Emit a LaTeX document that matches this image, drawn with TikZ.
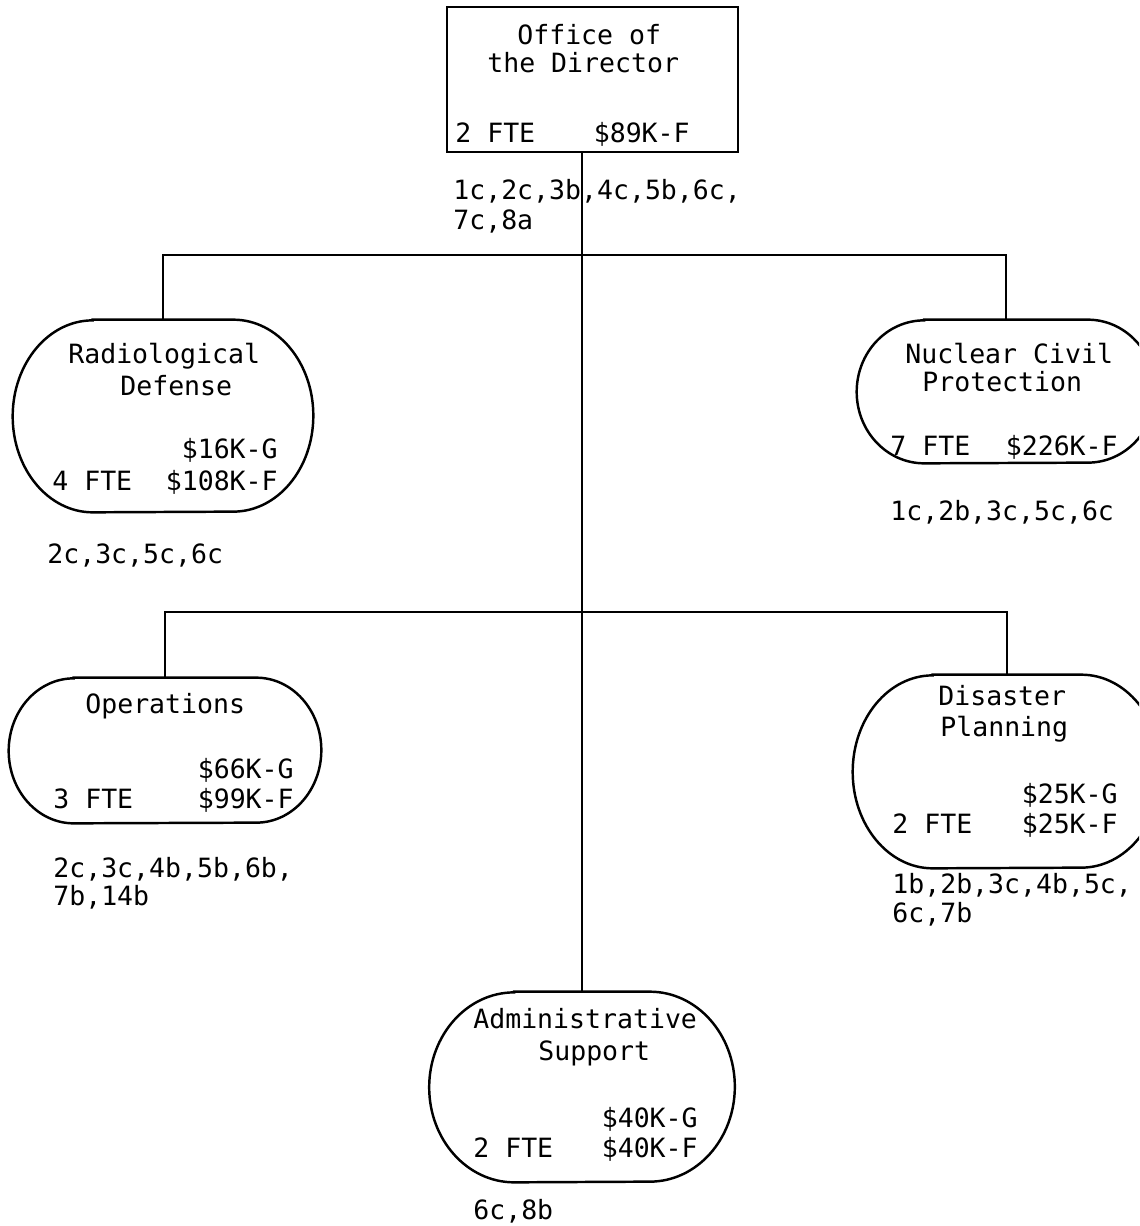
\documentclass[tikz,border=0pt]{standalone}
\usepackage{fontspec}
\setmonofont{DejaVu Sans Mono}
\tikzset{
  unit/.style={inner sep=0pt},
  border/.style={line width=1.4pt},
  txt/.style={font=\ttfamily\fontsize{15.1}{18}\selectfont, inner sep=0pt, anchor=base west},
  amt/.style={txt, anchor=base east},
  link/.style={line width=1.1pt}
}
% oval outline round a node: name, x radius, y radius
\newcommand{\ovalline}[3]{%
  \draw[border] ([xshift=#2]#1.north west) -- ([xshift=-#2]#1.north east)
    arc[start angle=90, end angle=-90, x radius=#2, y radius=#3]
    -- ([xshift=#2]#1.south west)
    arc[start angle=270, end angle=90, x radius=#2, y radius=#3] -- cycle;}
\begin{document}
\begin{tikzpicture}[x=0.02cm, y=-0.02cm]
  \useasboundingbox (0,0) rectangle (1139,1226);
  \clip (0,0) rectangle (1139,1226);

  % Office of the Director
  \node[unit, draw, border, minimum width=5.82cm, minimum height=2.9cm] (dir) at (592.5,79.5) {};
  \node[txt] (dirname1) at (517,45) {Office of};
  \node[txt] (dirname2) at (487,73) {the Director};
  \node[txt] (dirfte) at (455,143) {2 FTE};
  \node[amt] (dirf) at (690,143) {\$89K-F};
  \node[txt] (dircode1) at (453,200) {1c,2c,3b,4c,5b,6c,};
  \node[txt] (dircode2) at (453,230) {7c,8a};

  % Radiological Defense
  \node[unit, minimum width=6cm, minimum height=3.84cm] (rad) at (163,416) {};
  \ovalline{rad}{1.6cm}{1.92cm}
  \node[txt] (radname1) at (68,363) {Radiological};
  \node[txt] (radname2) at (120,395) {Defense};
  \node[amt] (radg) at (278,458) {\$16K-G};
  \node[txt] (radfte) at (52,490) {4 FTE};
  \node[amt] (radf) at (278,490) {\$108K-F};
  \node[txt] (radcode) at (47,563) {2c,3c,5c,6c};

  % Nuclear Civil Protection
  \node[unit, minimum width=5.96cm, minimum height=2.86cm] (ncp) at (1006,391.5) {};
  \ovalline{ncp}{1.35cm}{1.43cm}
  \node[txt] (ncpname1) at (905,363) {Nuclear Civil};
  \node[txt] (ncpname2) at (922,391) {Protection};
  \node[txt] (ncpfte) at (890,455) {7 FTE};
  \node[amt] (ncpf) at (1118,455) {\$226K-F};
  \node[txt] (ncpcode) at (890,520) {1c,2b,3c,5c,6c};

  % Operations
  \node[unit, minimum width=6.24cm, minimum height=2.9cm] (ops) at (165,750.5) {};
  \ovalline{ops}{1.3cm}{1.45cm}
  \node[txt] (opsname) at (85,713) {Operations};
  \node[amt] (opsg) at (294,778) {\$66K-G};
  \node[txt] (opsfte) at (53,808) {3 FTE};
  \node[amt] (opsf) at (294,808) {\$99K-F};
  \node[txt] (opscode1) at (53,877) {2c,3c,4b,5b,6b,};
  \node[txt] (opscode2) at (53,905) {7b,14b};

  % Disaster Planning
  \node[unit, minimum width=6.16cm, minimum height=3.86cm] (dis) at (1007,771.5) {};
  \ovalline{dis}{1.6cm}{1.93cm}
  \node[txt] (disname1) at (938,705) {Disaster};
  \node[txt] (disname2) at (940,736) {Planning};
  \node[amt] (disg) at (1118,803) {\$25K-G};
  \node[txt] (disfte) at (892,833) {2 FTE};
  \node[amt] (disf) at (1118,833) {\$25K-F};
  \node[txt] (discode1) at (892,893) {1b,2b,3c,4b,5c,};
  \node[txt] (discode2) at (892,922) {6c,7b};

  % Administrative Support
  \node[unit, minimum width=6.1cm, minimum height=3.8cm] (adm) at (582,1087) {};
  \ovalline{adm}{1.7cm}{1.9cm}
  \node[txt] (admname1) at (473,1028) {Administrative};
  \node[txt] (admname2) at (538,1060) {Support};
  \node[amt] (admg) at (698,1127) {\$40K-G};
  \node[txt] (admfte) at (473,1157) {2 FTE};
  \node[amt] (admf) at (698,1157) {\$40K-F};
  \node[txt] (admcode) at (473,1219) {6c,8b};

  % connectors
  \coordinate (bar1) at (582,255);
  \coordinate (bar2) at (582,612);
  \draw[link] (dir.south -| adm.north) -- (adm.north);
  \draw[link] (rad.north) |- (bar1) -| (ncp.north);
  \draw[link] (ops.north) |- (bar2) -| (dis.north);
\end{tikzpicture}
\end{document}
